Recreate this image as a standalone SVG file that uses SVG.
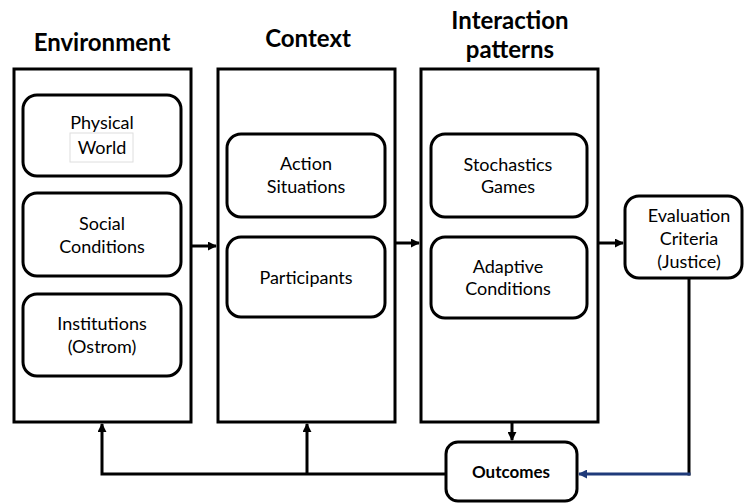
<svg xmlns="http://www.w3.org/2000/svg" width="745" height="503" viewBox="0 0 745 503">
  <style>
    .frame { fill: #ffffff; stroke: #000000; stroke-width: 3; }
    .card { fill: #ffffff; stroke: #000000; stroke-width: 3; }
    .title { font-family: Lato, "Liberation Sans", sans-serif; font-weight: bold; font-size: 24px; fill: #000000; text-anchor: middle; }
    .label { font-family: Lato, "Liberation Sans", sans-serif; font-size: 18px; fill: #000000; text-anchor: middle; }
    .bold { font-family: Lato, "Liberation Sans", sans-serif; font-weight: bold; font-size: 17px; fill: #000000; text-anchor: middle; }
    .wire { fill: none; stroke: #000000; stroke-width: 3; }
    .wire-blue { fill: none; stroke: #1f3a7a; stroke-width: 3; }
  </style>
  <defs>
    <marker id="head" viewBox="0 0 10 10" refX="9" refY="5" markerWidth="3" markerHeight="3" orient="auto" markerUnits="strokeWidth">
      <path d="M0,0 L10,5 L0,10 Z" fill="#000000"/>
    </marker>
    <marker id="head-blue" viewBox="0 0 10 10" refX="9" refY="5" markerWidth="3" markerHeight="3" orient="auto" markerUnits="strokeWidth">
      <path d="M0,0 L10,5 L0,10 Z" fill="#1f3a7a"/>
    </marker>
  </defs>
  <rect width="745" height="503" fill="#ffffff"/>

  <!-- column headings -->
  <text class="title" x="102" y="51">Environment</text>
  <text class="title" x="308" y="47">Context</text>
  <text class="title" x="510" y="29">Interaction</text>
  <text class="title" x="510" y="58">patterns</text>

  <!-- Environment column -->
  <g id="environment">
    <rect class="frame" x="14" y="69" width="177" height="353"/>
    <g id="physical-world">
      <rect class="card" x="23" y="95" width="158" height="81" rx="14"/>
      <rect x="70" y="133" width="63" height="29" fill="none" stroke="#dedede" stroke-width="1"/>
      <text class="label" x="102" y="129">Physical</text>
      <text class="label" x="102" y="154">World</text>
    </g>
    <g id="social-conditions">
      <rect class="card" x="23" y="193" width="158" height="83" rx="14"/>
      <text class="label" x="102" y="230">Social</text>
      <text class="label" x="102" y="253">Conditions</text>
    </g>
    <g id="institutions">
      <rect class="card" x="23" y="294" width="158" height="82" rx="14"/>
      <text class="label" x="102" y="330">Institutions</text>
      <text class="label" x="102" y="353">(Ostrom)</text>
    </g>
  </g>

  <!-- Context column -->
  <g id="context">
    <rect class="frame" x="218" y="69" width="177" height="353"/>
    <g id="action-situations">
      <rect class="card" x="227" y="134" width="158" height="83" rx="14"/>
      <text class="label" x="306" y="170">Action</text>
      <text class="label" x="306" y="193">Situations</text>
    </g>
    <g id="participants">
      <rect class="card" x="227" y="237" width="158" height="80" rx="14"/>
      <text class="label" x="306" y="284">Participants</text>
    </g>
  </g>

  <!-- Interaction patterns column -->
  <g id="interaction-patterns">
    <rect class="frame" x="421" y="69" width="177" height="353"/>
    <g id="stochastic-games">
      <rect class="card" x="431" y="134" width="156" height="83" rx="14"/>
      <text class="label" x="508" y="171">Stochastics</text>
      <text class="label" x="508" y="193">Games</text>
    </g>
    <g id="adaptive-conditions">
      <rect class="card" x="431" y="237" width="156" height="81" rx="14"/>
      <text class="label" x="508" y="273">Adaptive</text>
      <text class="label" x="508" y="295">Conditions</text>
    </g>
  </g>

  <!-- Evaluation criteria -->
  <g id="evaluation-criteria">
    <rect class="card" x="625" y="196" width="117" height="82" rx="14"/>
    <text class="label" x="689" y="222">Evaluation</text>
    <text class="label" x="689" y="245">Criteria</text>
    <text class="label" x="689" y="268">(Justice)</text>
  </g>

  <!-- Outcomes -->
  <g id="outcomes">
    <rect class="card" x="446" y="442" width="131" height="59" rx="12"/>
    <text class="bold" x="511" y="478">Outcomes</text>
  </g>

  <!-- connectors -->
  <g id="connectors">
    <path class="wire" d="M191,246 H216" marker-end="url(#head)"/>
    <path class="wire" d="M395,243 H419" marker-end="url(#head)"/>
    <path class="wire" d="M598,243 H623" marker-end="url(#head)"/>
    <path class="wire" d="M512,422 V440" marker-end="url(#head)"/>
    <path class="wire" d="M689,278 V475.5"/>
    <path class="wire-blue" d="M690.5,474 H579" marker-end="url(#head-blue)"/>
    <path class="wire" d="M446,474 H102 V424" marker-end="url(#head)"/>
    <path class="wire" d="M307,474 V424" marker-end="url(#head)"/>
  </g>
</svg>
